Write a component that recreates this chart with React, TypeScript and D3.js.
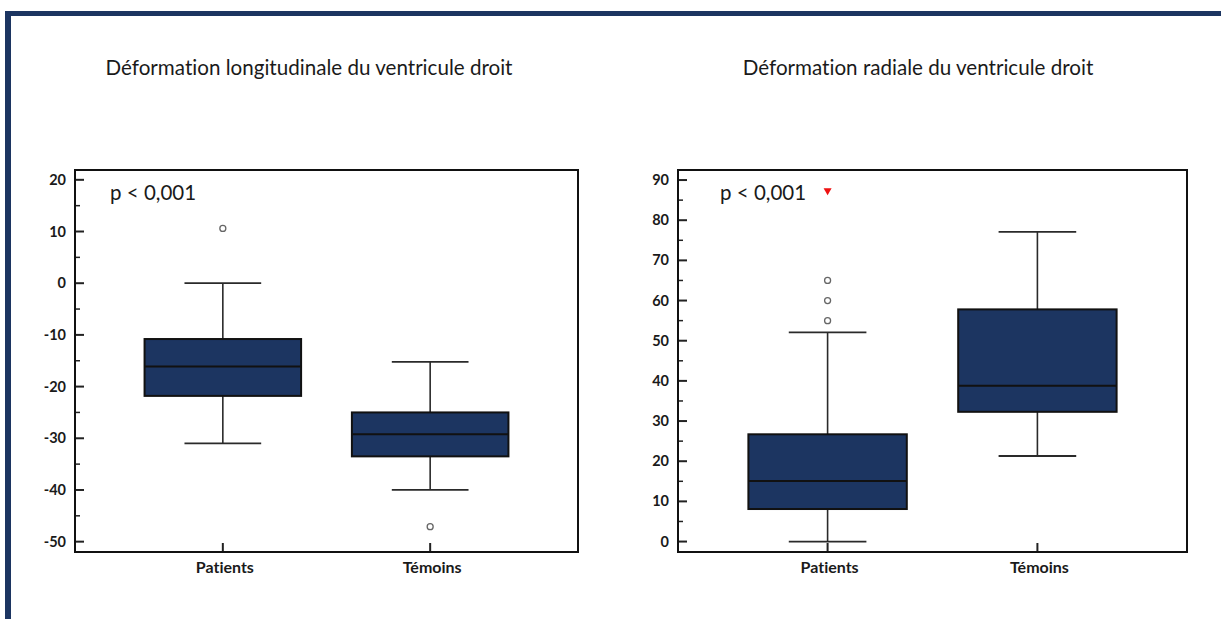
import { useEffect, useRef } from 'react';
import * as d3 from 'd3';

// categories
const groups = ['Patients', 'Témoins'];

// longitudinal strain (left panel)
const longWhiskerLow = [-31, -40];
const longQ1 = [-21.8, -33.5];
const longMedian = [-16.1, -29.2];
const longQ3 = [-10.8, -25.0];
const longWhiskerHigh = [0, -15.2];
const longOutliers = [[10.6], [-47.1]];
const longTicks = [-50, -40, -30, -20, -10, 0, 10, 20];

// radial strain (right panel)
const radWhiskerLow = [0, 21.3];
const radQ1 = [8.1, 32.3];
const radMedian = [15.1, 38.8];
const radQ3 = [26.7, 57.8];
const radWhiskerHigh = [52.1, 77.1];
const radOutliers = [[55, 60, 65], []];
const radFarOut = [[87.1], []];
const radTicks = [0, 10, 20, 30, 40, 50, 60, 70, 80, 90];

const FONT = 'Lato, "Open Sans", sans-serif';
const NAVY = '#1c3561';

interface PanelSpec {
  title: string;
  titleX: number;
  left: number;
  right: number;
  pX: number;
  domain: [number, number];
  ticks: number[];
  low: number[];
  q1: number[];
  med: number[];
  q3: number[];
  high: number[];
  outliers: number[][];
  farOut: number[][];
}

export default function App() {
  const svgRef = useRef<SVGSVGElement>(null);

  useEffect(() => {
    if (!svgRef.current) return;
    const svg = d3.select(svgRef.current);
    svg.selectAll('*').remove();

    svg.append('rect').attr('width', 1221).attr('height', 619).attr('fill', '#ffffff');

    // dark frame on top and left
    svg.append('rect').attr('x', 5).attr('y', 11).attr('width', 1216).attr('height', 5).attr('fill', NAVY);
    svg.append('rect').attr('x', 5).attr('y', 11).attr('width', 6).attr('height', 608).attr('fill', NAVY);

    const top = 170;
    const bottom = 552;

    const panels: PanelSpec[] = [
      {
        title: 'Déformation longitudinale du ventricule droit', titleX: 309,
        left: 75, right: 578, pX: 110, domain: [-52, 21.9], ticks: longTicks,
        low: longWhiskerLow, q1: longQ1, med: longMedian, q3: longQ3, high: longWhiskerHigh,
        outliers: longOutliers, farOut: [[], []]
      },
      {
        title: 'Déformation radiale du ventricule droit', titleX: 918,
        left: 678, right: 1187, pX: 720, domain: [-2.6, 92.5], ticks: radTicks,
        low: radWhiskerLow, q1: radQ1, med: radMedian, q3: radQ3, high: radWhiskerHigh,
        outliers: radOutliers, farOut: radFarOut
      }
    ];

    panels.forEach(p => {
      const g = svg.append('g').style('font-variant-ligatures', 'none');

      g.append('text')
        .attr('x', p.titleX)
        .attr('y', 75)
        .attr('text-anchor', 'middle')
        .attr('font-family', FONT)
        .attr('font-size', '20.6px')
        .attr('fill', '#1a1a1a')
        .text(p.title);

      const y = d3.scaleLinear().domain(p.domain).range([bottom, top]);
      const x = d3.scalePoint<string>().domain(groups).range([p.left, p.right]).padding(0.713);
      const step = x.step();
      const boxW = step * 0.755;
      const capW = step * 0.37;

      // minor ticks at the 5s
      const step5 = p.ticks[1] - p.ticks[0];
      const minor = p.ticks.slice(0, -1).map(t => t + step5 / 2)
        .concat(p.ticks[p.ticks.length - 1] + step5 / 2 <= p.domain[1] ? [p.ticks[p.ticks.length - 1] + step5 / 2] : []);
      minor.forEach(t => {
        g.append('line')
          .attr('x1', p.left).attr('x2', p.left + 5)
          .attr('y1', y(t)).attr('y2', y(t))
          .attr('stroke', '#222').attr('stroke-width', 1.5);
      });
      p.ticks.forEach(t => {
        g.append('line')
          .attr('x1', p.left).attr('x2', p.left + 9)
          .attr('y1', y(t)).attr('y2', y(t))
          .attr('stroke', '#222').attr('stroke-width', 2);
        g.append('text')
          .attr('x', p.left - 9)
          .attr('y', y(t) + 5)
          .attr('text-anchor', 'end')
          .attr('font-family', FONT)
          .attr('font-weight', 700)
          .attr('font-size', '14.5px')
          .attr('fill', '#1a1a1a')
          .text(String(t));
      });

      groups.forEach((name, i) => {
        const cx = x(name) as number;

        // category tick and label
        g.append('line')
          .attr('x1', cx).attr('x2', cx)
          .attr('y1', bottom).attr('y2', bottom - 9)
          .attr('stroke', '#222').attr('stroke-width', 2);
        g.append('text')
          .attr('x', cx + 2)
          .attr('y', 573)
          .attr('text-anchor', 'middle')
          .attr('font-family', FONT)
          .attr('font-weight', 700)
          .attr('font-size', '16px')
          .attr('fill', '#1a1a1a')
          .text(name);

        // whiskers
        g.append('line')
          .attr('x1', cx).attr('x2', cx)
          .attr('y1', y(p.high[i])).attr('y2', y(p.low[i]))
          .attr('stroke', '#2a2a2a').attr('stroke-width', 1.6);
        [p.high[i], p.low[i]].forEach(v => {
          g.append('line')
            .attr('x1', cx - capW / 2).attr('x2', cx + capW / 2)
            .attr('y1', y(v)).attr('y2', y(v))
            .attr('stroke', '#2a2a2a').attr('stroke-width', 1.8);
        });

        // box
        g.append('rect')
          .attr('x', cx - boxW / 2)
          .attr('y', y(p.q3[i]))
          .attr('width', boxW)
          .attr('height', y(p.q1[i]) - y(p.q3[i]))
          .attr('fill', NAVY)
          .attr('stroke', '#111')
          .attr('stroke-width', 2);
        g.append('line')
          .attr('x1', cx - boxW / 2).attr('x2', cx + boxW / 2)
          .attr('y1', y(p.med[i])).attr('y2', y(p.med[i]))
          .attr('stroke', '#111').attr('stroke-width', 2);

        // outliers
        p.outliers[i].forEach(v => {
          g.append('circle')
            .attr('cx', cx).attr('cy', y(v)).attr('r', 3)
            .attr('fill', '#fff').attr('stroke', '#666').attr('stroke-width', 1.3);
        });
        p.farOut[i].forEach(v => {
          const cy = y(v);
          g.append('path')
            .attr('d', `M${cx - 4},${cy - 3.5}L${cx + 4},${cy - 3.5}L${cx},${cy + 3.5}Z`)
            .attr('fill', '#ee1111');
        });
      });

      // plot frame
      g.append('rect')
        .attr('x', p.left).attr('y', top)
        .attr('width', p.right - p.left).attr('height', bottom - top)
        .attr('fill', 'none').attr('stroke', '#111').attr('stroke-width', 2);

      g.append('text')
        .attr('x', p.pX)
        .attr('y', 200)
        .attr('font-family', FONT)
        .attr('font-size', '20.5px')
        .attr('fill', '#1a1a1a')
        .text('p < 0,001');
    });
  }, []);

  return (
    <svg
      ref={svgRef}
      width={1221}
      height={619}
      style={{ position: 'absolute', left: 0, top: 0, display: 'block' }}
    />
  );
}
